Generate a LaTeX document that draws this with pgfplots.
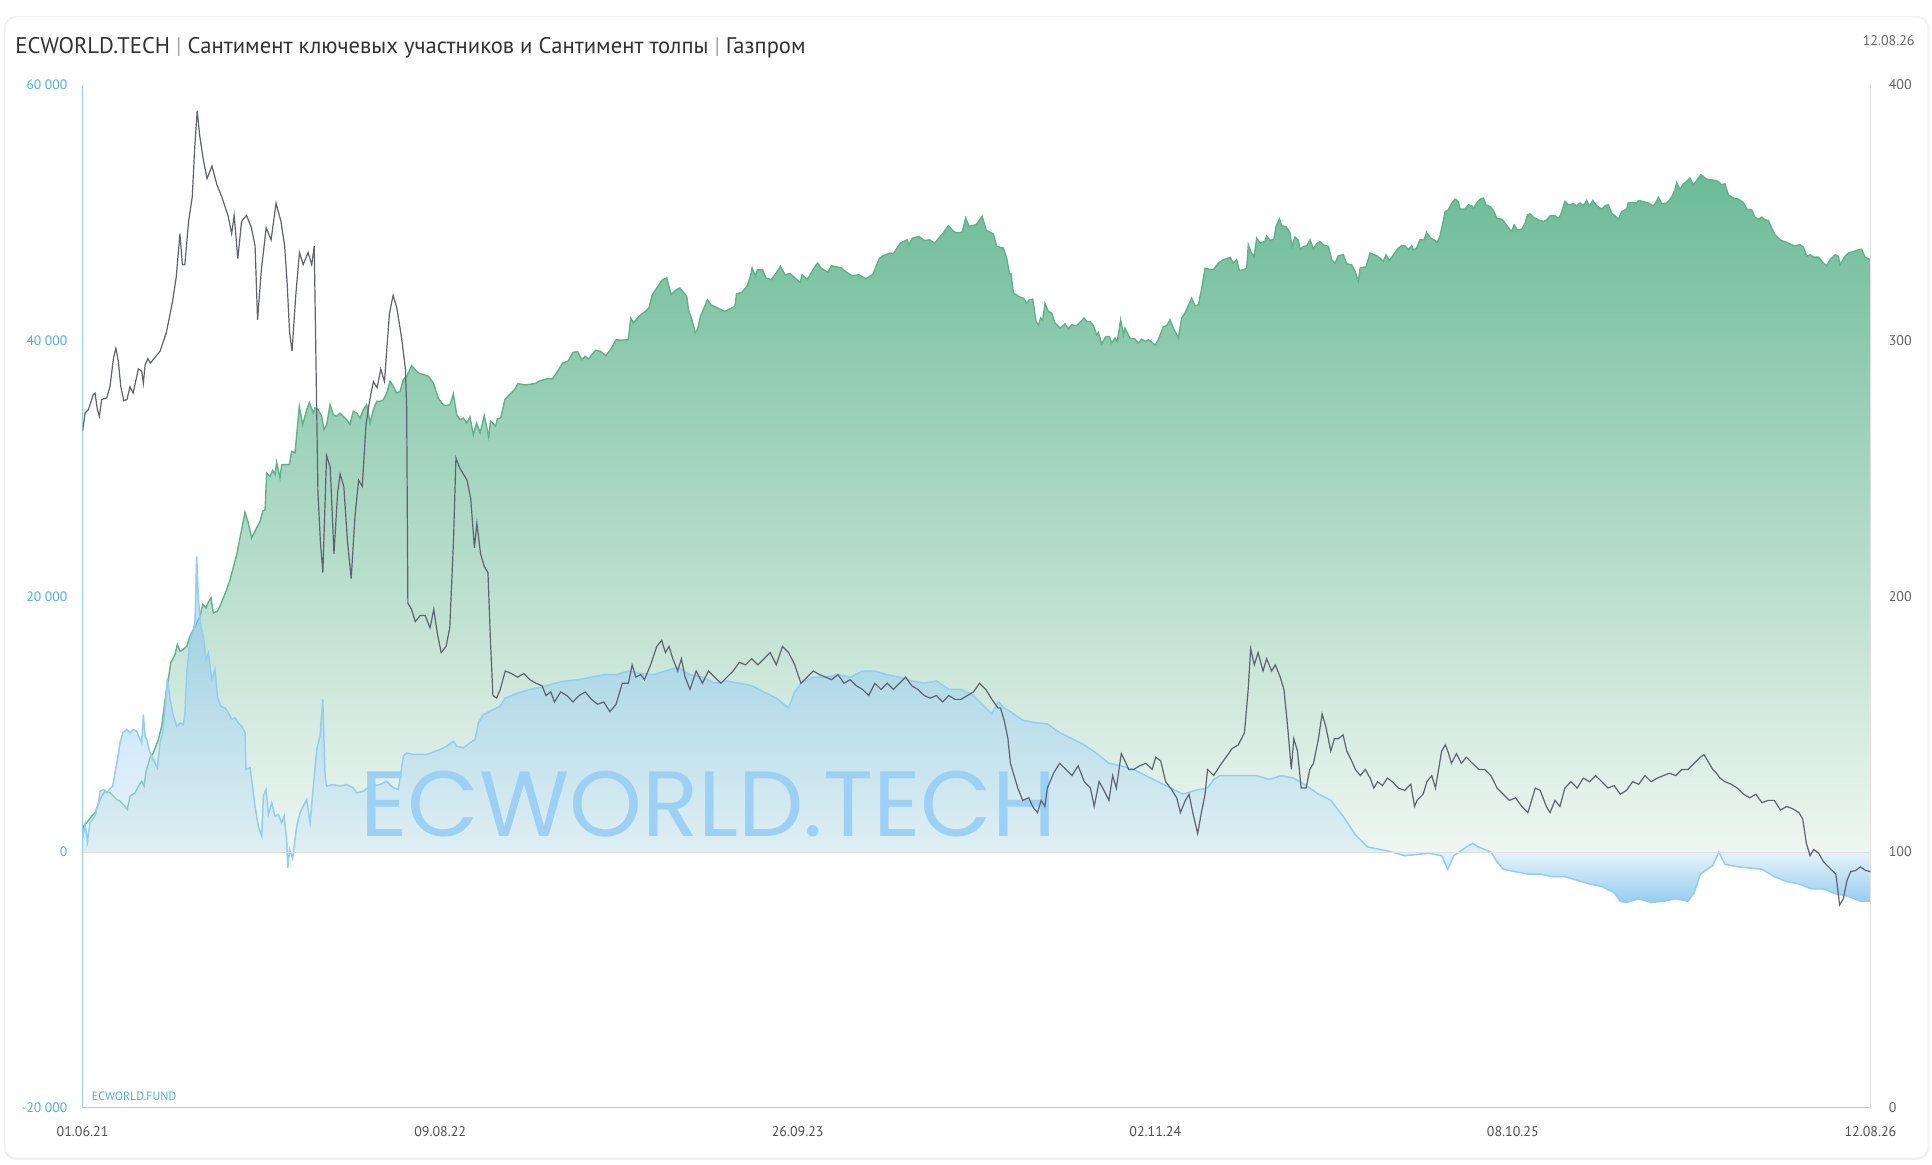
\documentclass[border=0pt]{standalone}
\usepackage{fontspec}
\setmainfont{PT Sans}
\newfontfamily\wmfont{Poppins}
\usepackage{graphicx}
\usepackage{pgfplots}
\pgfplotsset{compat=1.18}
\usepackage{pgfplotstable}

\definecolor{gline}{RGB}{95,178,138}
\definecolor{gtop}{RGB}{108,187,152}
\definecolor{gbot}{RGB}{238,246,242}
\definecolor{bline}{RGB}{146,206,243}
\definecolor{bneg}{RGB}{45,155,225}
\definecolor{bzero}{RGB}{209,233,245}
\definecolor{bpos}{RGB}{114,186,245}
\definecolor{pline}{RGB}{95,98,112}
\definecolor{wm}{RGB}{157,208,245}
\definecolor{lefttxt}{RGB}{80,175,230}
\definecolor{righttxt}{RGB}{100,100,100}
\definecolor{xtxt}{RGB}{80,80,80}
\definecolor{ttl}{RGB}{50,50,50}

% blue area: bbox from -3.95 (25bp) to 23.13 (75bp); zero at 32.3bp
\pgfdeclareverticalshading{crowdshade}{100bp}{color(0bp)=(bneg); color(25bp)=(bneg); color(32.3bp)=(bzero); color(75bp)=(bpos); color(100bp)=(bpos)}

% Key participants sentiment (thousands)
\pgfplotstableread{
x y
0 1.5
0.6 2.03
3.3 2.29
7.4 2.81
10.1 3.07
12.8 3.72
15.5 4.37
18.2 4.76
22.3 4.63
25.0 4.37
27.7 4.11
30.4 3.98
33.1 3.72
36.3 3.33
38.5 4.37
42.6 4.63
45.3 5.15
48.0 5.54
49.9 5.15
51.5 6.33
54.7 7.37
57.4 7.76
61.5 8.80
64.2 9.84
67.7 12.45
69.6 13.49
71.5 14.80
75.0 15.45
76.9 16.23
79.1 15.71
81.8 15.84
84.5 16.10
87.2 16.88
91.3 17.66
95.3 18.44
97.5 19.36
100.2 19.10
102.1 19.54
104.2 19.88
106.1 18.70
109.4 18.83
111.5 19.23
114.2 19.88
116.9 20.53
119.7 21.31
122.9 22.48
125.1 23.27
127.2 24.31
129.1 25.22
131.8 26.58
134.5 25.74
137.2 24.57
139.9 25.09
144.0 25.87
146.2 26.65
148.1 26.78
149.4 29.65
152.1 29.39
154.3 29.86
156.2 29.52
157.5 30.48
160.2 29.26
161.6 30.30
164.3 30.30
167.8 30.30
169.7 31.34
172.4 31.21
175.9 34.86
178.6 33.43
181.9 34.60
184.0 35.17
187.3 34.34
188.6 34.73
191.3 34.60
194.0 34.08
195.9 33.04
198.1 33.43
200.8 34.99
203.5 34.21
206.2 34.08
208.9 34.34
211.6 34.08
214.3 33.82
217.0 33.43
219.7 34.47
222.4 34.34
225.2 33.95
227.9 34.60
230.6 34.99
233.3 33.56
236.0 34.60
238.7 35.25
241.4 35.25
244.1 35.38
246.8 35.90
249.5 36.82
252.2 36.43
254.9 35.90
257.6 36.03
260.3 36.95
263.0 37.21
267.1 38.04
269.8 37.73
272.5 37.47
276.6 37.34
280.6 37.21
284.7 36.69
288.7 35.51
291.4 35.12
294.1 34.91
298.2 34.99
300.9 35.83
303.6 34.21
306.3 33.82
309.0 33.95
311.7 33.56
314.4 34.03
317.1 32.65
319.8 33.56
322.6 32.78
326.0 34.14
329.6 32.47
331.0 33.70
335.2 33.31
336.6 33.88
339.4 33.96
342.7 35.39
346.4 35.78
350.6 36.17
353.3 36.64
358.9 36.54
367.3 36.64
370.1 36.82
377.1 37.03
381.3 37.01
385.5 37.60
389.7 38.26
393.9 38.39
398.1 39.09
401.7 39.14
405.1 38.52
407.8 38.78
410.6 38.57
416.2 39.25
420.4 39.17
424.6 38.83
428.8 39.35
433.0 40.08
437.2 40.03
442.8 40.08
445.0 41.77
447.0 41.38
451.2 41.85
454.0 42.11
456.8 42.29
459.6 42.55
462.4 43.60
466.5 44.19
470.7 44.77
474.1 44.90
477.7 43.60
481.9 43.99
484.7 44.12
490.3 43.47
491.7 42.42
494.5 41.64
497.3 40.60
499.2 40.91
501.5 41.90
507.1 43.20
509.9 42.81
515.5 42.55
521.0 42.29
529.4 42.68
530.8 43.67
535.0 43.78
539.2 44.25
542.0 45.03
543.4 45.68
546.2 45.03
547.6 45.55
551.8 45.55
554.6 44.90
558.8 44.77
563.0 45.29
566.3 45.81
570.0 45.16
574.2 45.24
578.3 44.90
582.5 44.56
583.9 45.16
588.1 44.77
593.2 45.60
596.5 46.07
599.3 45.68
604.9 45.34
607.7 45.86
616.1 45.68
618.9 45.42
624.5 45.08
630.1 45.16
635.6 44.85
641.2 45.16
646.8 46.46
649.6 46.64
655.2 46.85
658.0 46.80
663.6 47.63
669.2 47.89
670.6 47.50
673.4 48.02
679.0 48.15
683.2 47.84
687.3 47.89
691.5 47.63
698.5 48.42
702.7 48.99
706.9 48.55
709.7 48.42
713.9 48.49
716.7 49.59
719.5 48.94
725.1 49.07
730.1 49.72
733.5 48.62
739.1 48.36
741.9 47.37
747.3 47.24
750.0 46.46
752.2 45.28
753.5 45.23
755.4 43.72
757.6 43.59
759.5 43.46
763.5 43.33
766.2 42.94
768.4 43.20
771.1 43.25
773.8 41.50
775.7 41.24
777.6 41.77
779.2 41.58
781.1 42.89
783.8 42.29
786.5 42.16
789.2 41.37
793.3 40.98
797.4 41.32
800.1 40.91
802.8 41.24
806.8 41.17
809.5 41.43
812.8 41.77
814.9 41.50
817.6 41.50
820.3 41.19
823.0 40.46
824.4 40.64
827.1 39.76
830.6 40.33
833.3 40.33
835.2 39.81
837.9 40.20
839.8 39.94
842.5 41.63
844.7 40.46
846.0 40.98
850.1 40.20
854.1 40.12
856.9 39.81
859.6 40.12
862.3 39.94
865.0 40.07
867.7 39.89
870.4 39.63
873.1 40.07
877.2 41.11
879.9 41.17
882.6 41.63
885.3 40.98
889.3 40.20
892.0 41.77
894.7 42.16
900.1 43.33
902.8 42.73
905.6 42.81
908.3 44.11
911.0 45.67
913.7 45.60
917.7 45.54
921.8 46.07
925.8 46.33
931.3 46.51
934.0 46.07
936.7 46.33
938.8 45.49
942.1 45.54
944.8 45.67
946.1 47.50
948.0 46.98
950.7 46.54
952.9 48.02
955.6 47.63
959.6 47.76
961.0 48.20
963.7 47.84
966.9 47.94
968.6 48.93
971.3 49.51
973.2 48.98
976.7 48.93
980.0 48.41
981.3 47.37
984.0 48.10
986.7 47.84
988.1 47.11
990.8 47.37
993.5 47.42
996.2 47.89
998.9 47.16
1001.6 47.58
1004.3 47.76
1007.0 47.50
1011.1 47.37
1013.8 46.33
1016.5 46.07
1019.2 46.64
1023.2 46.72
1025.9 46.01
1030.0 45.93
1032.7 45.41
1035.4 44.63
1036.8 45.67
1039.5 45.75
1041.6 45.75
1044.9 46.85
1050.3 46.64
1053.0 46.46
1055.7 46.20
1057.9 46.72
1060.6 46.25
1063.8 46.72
1067.9 47.24
1070.6 47.45
1073.3 47.42
1076.0 47.11
1078.7 47.42
1080.0 47.11
1082.7 47.24
1085.4 47.89
1088.7 47.89
1090.8 48.46
1094.1 48.02
1097.6 47.84
1099.5 47.68
1101.7 48.20
1103.9 49.19
1105.8 50.10
1108.5 50.24
1111.2 50.76
1113.9 51.07
1116.6 50.89
1117.9 50.29
1122.0 50.29
1124.7 50.63
1127.4 50.55
1128.8 50.36
1131.5 50.76
1134.2 51.07
1136.9 51.15
1139.0 50.63
1142.3 50.50
1145.0 50.18
1147.7 49.58
1151.7 49.50
1154.5 49.19
1158.5 48.67
1159.9 48.54
1161.8 49.06
1164.5 48.67
1168.0 48.72
1170.7 49.19
1172.6 49.84
1174.7 49.92
1177.4 49.66
1181.5 49.45
1185.6 49.32
1188.3 49.45
1191.0 49.77
1195.0 49.77
1197.7 49.58
1199.6 49.84
1203.1 50.89
1205.9 50.63
1209.9 50.71
1212.6 50.55
1215.3 50.76
1218.0 50.55
1220.7 50.96
1222.9 50.50
1225.6 50.96
1228.8 50.55
1232.9 50.29
1235.6 50.55
1238.3 50.63
1241.0 49.97
1245.1 49.66
1246.4 49.45
1249.1 50.10
1253.2 50.29
1254.5 50.81
1258.1 50.81
1261.3 50.76
1262.7 50.96
1266.7 50.89
1270.8 50.76
1274.8 50.55
1277.0 50.81
1278.9 51.23
1281.6 50.71
1285.7 50.76
1289.7 51.23
1292.4 51.80
1293.8 52.37
1296.5 51.85
1299.2 52.27
1301.9 52.45
1304.6 52.71
1307.3 52.19
1310.0 52.53
1313.3 52.97
1315.4 52.84
1318.1 52.63
1322.2 52.58
1324.9 52.53
1327.6 52.45
1330.3 52.19
1333.0 52.27
1335.7 51.41
1339.8 51.15
1343.8 51.07
1347.9 50.81
1350.6 50.29
1354.6 50.24
1357.3 49.66
1360.1 49.50
1362.8 49.66
1365.5 49.45
1368.2 49.40
1370.9 48.80
1373.6 48.28
1377.6 47.89
1383.1 47.68
1387.1 47.50
1389.8 47.42
1393.9 47.50
1396.6 47.32
1399.3 46.59
1402.0 46.72
1404.7 46.54
1408.8 46.54
1412.8 46.07
1415.5 45.86
1418.2 46.33
1422.3 46.72
1425.0 46.59
1426.3 45.94
1430.4 46.59
1433.1 46.85
1437.2 46.98
1441.2 47.11
1443.9 47.16
1446.6 46.54
1451.0 46.33
}\keytable

% Crowd sentiment (thousands)
\pgfplotstableread{
x y
0 1.0
2.0 2.16
3.9 0.8
6.0 2.29
10.1 2.81
12.8 3.85
14.2 4.76
17.4 4.89
19.6 4.63
21.7 4.89
24.4 5.15
26.3 6.20
29.0 7.63
30.4 8.54
32.6 9.33
35.8 9.58
38.5 9.33
41.2 9.58
43.9 9.45
46.6 8.80
48.0 8.54
49.3 10.76
50.7 9.06
52.0 8.80
54.7 7.76
57.4 7.24
60.7 6.59
62.8 8.54
65.0 9.33
66.9 11.15
68.8 13.62
71.0 11.93
73.7 10.63
76.4 9.84
79.1 10.10
81.8 9.97
83.1 10.89
84.5 14.01
87.2 16.62
89.9 17.27
91.3 18.18
92.6 23.13
94.0 19.75
95.9 17.66
98.0 16.88
100.2 15.06
102.1 15.58
104.8 13.49
107.5 14.27
109.4 12.19
112.1 11.41
115.6 11.28
118.3 10.89
121.0 10.37
123.7 10.50
126.4 10.10
129.1 9.84
131.8 9.33
132.6 6.46
135.9 6.59
137.2 5.67
139.9 3.59
142.6 2.03
145.4 1.24
146.7 4.37
148.9 4.89
150.8 2.94
153.5 3.85
156.2 2.81
158.9 2.94
161.6 2.29
163.5 2.81
165.6 0.98
166.5 -1.25
168.0 0.20
170.5 -0.50
173.8 2.03
176.5 3.07
179.2 3.59
181.9 4.11
184.6 2.29
187.3 5.15
190.0 8.02
192.7 9.06
194.9 11.93
196.8 5.93
198.1 5.15
203.5 5.28
208.9 5.15
214.3 5.28
219.7 5.02
222.4 4.63
227.9 4.76
233.3 5.15
241.4 5.28
246.8 5.54
252.2 5.02
256.3 4.89
260.3 7.50
263.0 7.76
268.4 7.63
279.3 7.63
290.1 8.02
295.5 8.28
300.9 8.67
303.6 8.28
309.0 8.15
314.4 8.54
318.5 8.80
321.2 10.10
325.3 10.76
330.7 11.02
338.8 11.41
343 12.04
353 12.43
363 12.72
373 12.91
383 13.20
393 13.39
403 13.49
413 13.68
423 13.87
433 13.87
443 14.16
453 13.97
463 13.87
473 14.16
483 14.45
493 13.87
503 13.68
513 13.20
523 13.39
533 13.20
543 13.01
553 12.52
563 12.04
573 11.27
578 12.52
583 13.20
593 13.68
603 13.68
613 13.87
623 13.68
633 14.16
643 14.16
653 13.87
663 13.68
673 13.39
683 13.20
693 13.39
703 12.72
713 12.72
723 12.24
733 11.27
738 10.79
743 11.75
748 11.27
753 10.98
763 10.31
773 10.12
783 10.02
793 9.34
803 8.86
813 8.38
823 7.71
833 6.94
843 6.74
853 6.46
863 5.97
873 5.49
883 5.01
893 4.53
903 4.82
913 5.01
918 5.68
923 5.97
933 5.97
943 5.97
953 5.97
963 5.68
973 5.97
983 5.78
993 5.20
1003 4.53
1013 4.05
1023 2.80
1033 1.35
1043 0.39
1053 0.20
1063 0.00
1073 -0.29
1083 -0.19
1093 -0.10
1103 -0.29
1108 -1.35
1113 -0.29
1123 0.39
1128 0.68
1133 0.39
1143 0.00
1148 -0.77
1153 -1.35
1163 -1.54
1173 -1.73
1183 -1.73
1193 -1.93
1203 -1.93
1213 -2.21
1223 -2.50
1233 -2.69
1243 -3.18
1248 -3.85
1253 -3.95
1263 -3.66
1273 -3.95
1283 -3.85
1293 -3.66
1303 -3.85
1308 -3.18
1313 -1.73
1323 -1.06
1328 0.00
1333 -0.96
1343 -1.15
1353 -1.25
1363 -1.35
1373 -1.93
1383 -2.31
1393 -2.50
1403 -2.89
1413 -2.89
1423 -3.27
1433 -3.47
1443 -3.85
1451 -3.85
}\crowdtable

% Price (right axis)
\pgfplotstableread{
x y
0 264.7
2.0 271.7
4.7 273.0
8.7 278.9
10.1 279.5
12.0 273.0
13.6 270.4
15.5 277.0
19.6 277.6
22.3 282.2
25.0 293.0
27.0 297.0
29.0 292.0
31.0 282.0
33.5 276.5
36.0 277.0
38.5 282.0
41.0 279.5
45.3 289.0
48.0 288.0
49.3 283.3
50.7 290.5
53.0 293.0
55 291.2
59 293.6
63 296.0
68 303.2
73 315.3
76 324.9
79 341.8
81 329.7
83 329.7
86 346.6
89 356.2
91 375.5
93 389.9
95 380.3
98 370.7
101 363.4
105 368.3
109 361.0
113 356.2
118 349.0
121 341.8
123 349.0
126 332.1
129 346.6
133 349.0
137 344.2
140 337.0
142 308.1
145 327.3
149 344.2
153 339.4
157 353.8
161 346.6
164 337.0
166 322.5
168 303.2
170 296.0
173 317.7
176 334.5
179 329.7
183 334.5
186 329.7
188 337.0
191 240.6
193 221.4
195 209.3
198 255.1
201 250.3
204 216.6
207 240.6
209 247.8
212 243.0
215 221.4
218 206.9
221 231.0
224 245.4
227 243.0
230 267.1
233 276.7
236 284.0
239 281.6
242 288.8
245 284.0
249 310.5
252 317.7
255 312.9
259 300.8
262 288.8
263 274.3
264 197.3
267 194.9
270 190.1
274 192.5
278 192.5
282 187.7
285 194.9
288 185.3
291 178.0
295 180.4
298 187.7
301 221.4
303 254.1
306 250.3
309 247.8
312 245.4
315 238.2
318 219.0
320 228.6
323 216.6
326 211.7
329 209.3
331 182.8
333 161.2
336 160.2
339 163.6
343 170.8
348 169.8
353 168.4
358 169.8
363 167.4
368 166.0
373 165.0
376 161.2
380 162.6
383 158.7
388 162.6
393 161.2
398 158.7
403 161.2
408 162.6
413 159.7
418 157.8
423 158.7
428 154.9
433 157.8
438 166.0
443 166.0
446 173.2
449 168.4
453 169.4
456 167.4
461 173.2
466 180.4
470 182.8
473 178.0
476 180.4
479 175.6
483 170.8
486 175.6
489 168.4
493 163.6
498 170.8
503 166.0
508 170.8
513 168.4
518 166.0
523 168.4
528 170.8
533 174.2
538 173.2
543 175.6
548 173.2
553 175.6
558 178.0
563 173.2
568 180.4
573 178.0
578 173.2
583 166.0
588 168.4
593 170.8
598 169.4
603 168.4
608 167.4
613 169.4
618 166.0
623 167.4
628 165.0
633 163.6
638 161.2
643 166.0
648 163.6
653 166.0
658 163.6
663 166.0
668 168.4
673 165.0
678 163.6
683 161.2
688 160.2
693 161.2
698 158.7
703 161.2
708 159.7
713 159.7
718 161.2
723 162.6
728 166.0
733 163.6
738 159.7
743 156.3
745 156.3
748 151.5
751 144.3
753 134.7
756 129.9
759 125.0
763 120.2
768 121.2
771 117.8
775 115.4
778 120.2
781 117.8
783 125.0
788 130.8
793 134.7
798 132.3
803 129.9
808 133.7
813 127.5
818 125.0
821 117.8
825 127.5
828 125.0
833 120.2
836 129.9
839 125.0
843 138.5
846 135.6
849 132.3
853 132.3
858 133.7
863 134.7
868 132.3
871 137.1
875 135.6
879 127.5
883 125.0
888 121.2
891 115.4
895 120.2
898 122.6
901 115.4
905 107.2
908 115.4
911 122.6
913 132.3
918 129.9
923 133.7
928 137.1
933 140.5
938 141.9
943 146.7
946 163.6
948 179.5
951 173.2
954 178.0
958 170.8
961 175.6
965 170.8
968 173.2
972 168.4
975 163.6
978 149.1
981 132.3
983 144.3
986 139.5
989 125.0
993 125.0
996 132.3
999 134.7
1003 144.3
1006 154.0
1009 149.1
1013 139.5
1016 144.3
1019 144.3
1023 145.8
1026 139.5
1030 135.6
1033 132.3
1037 129.9
1041 132.3
1045 128.9
1048 125.0
1051 127.5
1055 126.0
1059 128.9
1063 127.5
1068 125.0
1073 124.1
1078 126.5
1081 117.8
1083 120.2
1088 122.6
1091 127.5
1095 129.9
1098 125.0
1103 139.5
1106 141.9
1108 139.5
1111 134.7
1115 138.5
1119 134.7
1123 137.1
1128 134.7
1133 132.3
1138 132.3
1143 129.9
1148 125.0
1153 122.6
1158 120.2
1163 121.2
1168 117.8
1173 115.4
1176 120.2
1179 125.0
1183 124.1
1188 117.8
1191 115.4
1195 120.2
1199 117.8
1203 125.0
1208 127.5
1213 125.0
1218 128.9
1223 127.5
1228 129.9
1233 127.5
1238 125.0
1243 126.0
1248 122.6
1253 124.1
1258 127.5
1263 126.5
1268 129.9
1273 127.5
1278 128.9
1283 129.9
1288 130.8
1293 129.9
1298 132.3
1303 132.3
1308 134.7
1313 137.1
1316 138.1
1319 135.6
1323 132.3
1326 130.8
1329 128.9
1333 127.5
1338 126.5
1343 125.0
1348 122.6
1353 121.2
1358 122.6
1363 119.3
1368 120.2
1373 120.2
1378 116.4
1383 117.8
1388 116.9
1393 115.4
1396 113.0
1399 103.4
1402 98.6
1405 101.0
1409 99.5
1413 96.1
1418 93.7
1423 91.3
1426 79.3
1429 81.7
1432 88.9
1435 92.3
1439 92.8
1443 94.2
1447 92.8
1451 92.3
}\pricetable

\begin{document}
\begin{tikzpicture}
\path[use as bounding box] (0pt,0pt) rectangle (966pt,582.5pt);
% card
\fill[black!6,rounded corners=6pt] (2pt,2.5pt) rectangle (964.5pt,574.5pt);
\fill[white,rounded corners=6pt] (2.5pt,3.5pt) rectangle (964pt,574pt);
\draw[black!5,rounded corners=6pt,line width=0.4pt] (2.5pt,3.5pt) rectangle (964pt,574pt);

\begin{axis}[
  at={(41.3pt,28.65pt)}, anchor=south west,
  width=893.9pt, height=511.35pt, scale only axis,
  axis on top,
  xmin=0, xmax=1451, ymin=-20, ymax=60,
  axis x line*=bottom, axis y line*=left,
  x axis line style={draw=black!22, line width=0.8pt, -},
  y axis line style={draw=bline, line width=0.6pt, -},
  xtick={0,290.2,580.4,870.6,1160.8,1451},
  xticklabels={01.06.21,09.08.22,26.09.23,02.11.24,08.10.25,12.08.26},
  ytick={-20,0,20,40,60},
  yticklabels={-20 000,0,20 000,40 000,60 000},
  extra y ticks={0}, extra y tick labels={},
  extra y tick style={grid=major, major grid style={draw=black!13, line width=0.5pt}},
  major tick length=0pt,
  tick style={draw=none},
  /pgf/number format/assume math mode=true,
  yticklabel style={font=\fontsize{6.8}{8}\selectfont, text=lefttxt, inner sep=0pt, xshift=-7.5pt},
  xticklabel style={font=\fontsize{7}{8}\selectfont, text=xtxt, inner sep=0pt, yshift=-9pt},
]
\addplot[draw=none, top color=gtop, bottom color=gbot] table[x=x,y=y] {\keytable} \closedcycle;
\addplot[draw=gline, line width=0.7pt] table[x=x,y=y] {\keytable};
\addplot[draw=none, shading=crowdshade, fill opacity=0.5] table[x=x,y=y] {\crowdtable} \closedcycle;
\addplot[draw=bline, line width=0.75pt] table[x=x,y=y] {\crowdtable};
\node[anchor=west, inner sep=0pt, text=lefttxt, font=\fontsize{6}{7}\selectfont] at (rel axis cs:0.005,0.0115) {ECWORLD.FUND};
\end{axis}

\node[anchor=south west, inner sep=0pt, text=wm] at (180pt,163.5pt) {\resizebox{348pt}{32.7pt}{\wmfont ECWORLD.TECH}};

\begin{axis}[
  at={(41.3pt,28.65pt)}, anchor=south west,
  width=893.9pt, height=511.35pt, scale only axis,
  xmin=0, xmax=1451, ymin=0, ymax=400,
  axis x line=none, axis y line*=right,
  y axis line style={draw=black!12, line width=0.6pt, -},
  ytick={0,100,200,300,400},
  major tick length=0pt,
  tick style={draw=none},
  /pgf/number format/assume math mode=true,
  yticklabel style={font=\fontsize{7}{8}\selectfont, text=righttxt, inner sep=0pt, xshift=9pt, anchor=west},
]
\addplot[draw=pline, line width=0.6pt] table[x=x,y=y] {\pricetable};
\end{axis}

\node[anchor=west, inner sep=0pt, text=ttl, font=\fontsize{11.3}{13}\selectfont] at (7.5pt,558.8pt) {ECWORLD.TECH \textcolor{black!35}{|} Сантимент ключевых участников и Сантимент толпы \textcolor{black!35}{|} Газпром};
\node[anchor=east, inner sep=0pt, text=black!60, font=\fontsize{7}{8}\selectfont] at (957.5pt,562.2pt) {12.08.26};
\end{tikzpicture}
\end{document}
